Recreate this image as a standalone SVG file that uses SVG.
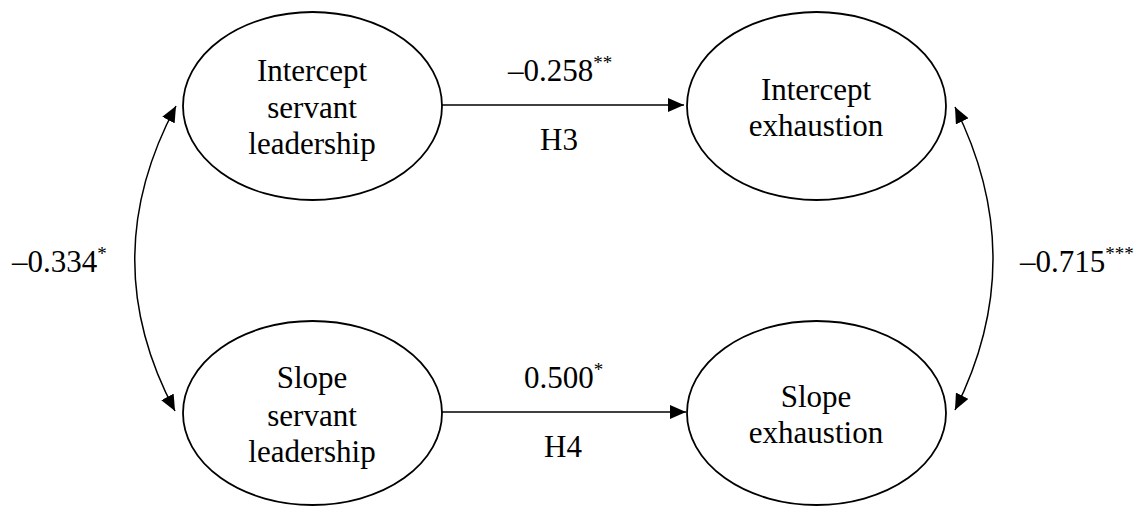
<svg xmlns="http://www.w3.org/2000/svg" width="1148" height="506" viewBox="0 0 1148 506">
<style>
.node{fill:#fff;stroke:#000;stroke-width:1.8}
.t{font-family:'Liberation Serif','Tinos','Times New Roman','DejaVu Serif',serif;font-size:31px;fill:#000;text-anchor:middle}
.l{font-family:'Liberation Serif','Tinos','Times New Roman','DejaVu Serif',serif;font-size:31px;fill:#000}
.sup{font-size:19px}
.edge{fill:none;stroke:#000;stroke-width:1.5}
</style>
<defs>
<marker id="ah" markerUnits="userSpaceOnUse" markerWidth="16" markerHeight="14" refX="16" refY="7" orient="auto-start-reverse" viewBox="0 0 16 14">
<path d="M0,0 L16,7 L0,14 z" fill="#000"/>
</marker>
</defs>
<g id="connectors">
<path class="edge" d="M442,105 L684,105" marker-end="url(#ah)"/>
<path class="edge" d="M442,412 L686,412" marker-end="url(#ah)"/>
<path class="edge" d="M176,106 Q94,259 175,411" marker-start="url(#ah)" marker-end="url(#ah)"/>
<path class="edge" d="M955,107 Q1031,259 955,410" marker-start="url(#ah)" marker-end="url(#ah)"/>
</g>
<g id="n1">
<ellipse class="node" cx="312.5" cy="106" rx="129.5" ry="94"/>
<text class="t" x="312" y="81">Intercept</text>
<text class="t" x="312" y="118">servant</text>
<text class="t" x="312" y="154">leadership</text>
</g>
<g id="n2">
<ellipse class="node" cx="816.5" cy="106" rx="129.5" ry="94"/>
<text class="t" x="816" y="100">Intercept</text>
<text class="t" x="816" y="136">exhaustion</text>
</g>
<g id="n3">
<ellipse class="node" cx="312.5" cy="413" rx="129.5" ry="92"/>
<text class="t" x="312" y="388">Slope</text>
<text class="t" x="312" y="426">servant</text>
<text class="t" x="312" y="462">leadership</text>
</g>
<g id="n4">
<ellipse class="node" cx="816.5" cy="413" rx="129.5" ry="92"/>
<text class="t" x="816" y="407">Slope</text>
<text class="t" x="816" y="443">exhaustion</text>
</g>
<g id="labels">
<text class="l" x="508" y="81">–0.258<tspan class="sup" dy="-12">**</tspan></text>
<text class="t" x="559" y="150">H3</text>
<text class="l" x="524" y="388">0.500<tspan class="sup" dy="-12">*</tspan></text>
<text class="t" x="563" y="457">H4</text>
<text class="l" x="12" y="272">–0.334<tspan class="sup" dy="-12">*</tspan></text>
<text class="l" x="1020" y="272">–0.715<tspan class="sup" dy="-12">***</tspan></text>
</g>
</svg>
